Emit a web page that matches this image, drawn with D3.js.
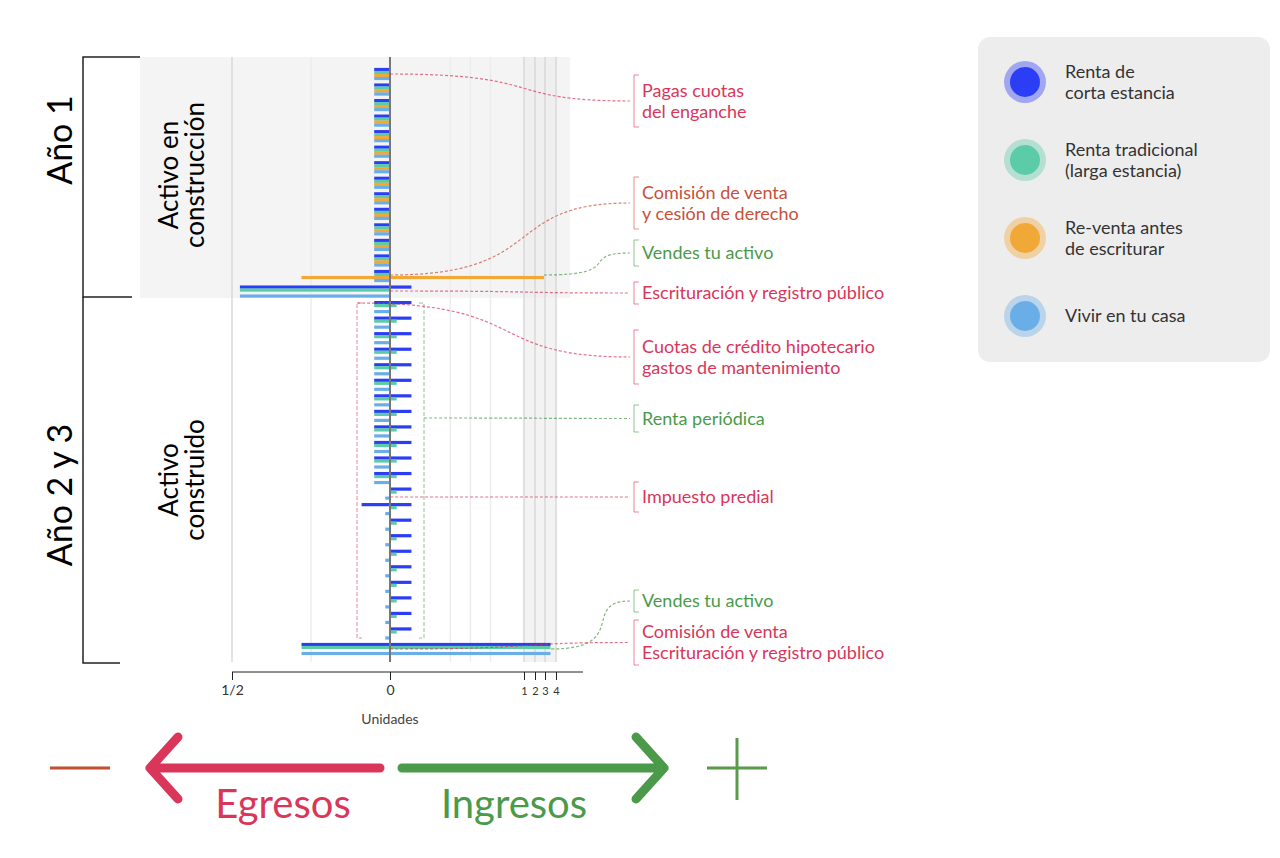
<!DOCTYPE html>
<html><head><meta charset="utf-8">
<script src="https://cdn.jsdelivr.net/npm/d3@7"></script>
<style>body{margin:0;background:#fff;font-family:Lato,"Noto Sans",sans-serif}</style>
</head><body><svg id="c" width="1280" height="858"></svg>
<script>
const series = ["Renta de corta estancia","Renta tradicional (larga estancia)","Re-venta antes de escriturar","Vivir en tu casa"];
const seriesLabels = [["Renta de","corta estancia"],["Renta tradicional","(larga estancia)"],["Re-venta antes","de escriturar"],["Vivir en tu casa"]];
const colors = ["#2b3ef5","#5ccba8","#f0a837","#6aaee8"];
const tickVals = [-1,0,1,2,3,4];
const tickLabels = ["1/2","0","1","2","3","4"];
// rows: [neg, pos] per series (blue, teal, orange, lightblue)
const rows = [];
for(let i=0;i<13;i++) rows.push([[-0.1,0],[-0.1,0],[-0.1,0],[-0.1,0]]);
rows.push([[-0.1,0],[-0.1,0],[-0.56,2.9],[-0.1,0]]);
rows.push([[-0.95,0.16],[-0.95,0],[0,0],[-0.95,0]]);
const y2first = [[-0.1,0.16],[-0.1,0.05],[0,0],[-0.1,0]];
for(let i=0;i<12;i++) rows.push(y2first);
rows.push([[0,0.16],[0,0.05],[0,0],[-0.03,0]]);
rows.push([[-0.18,0.16],[0,0.05],[0,0],[-0.03,0]]);
for(let i=0;i<8;i++) rows.push([[0,0.16],[0,0.05],[0,0],[-0.03,0]]);
rows.push([[-0.56,3.5],[-0.56,3.5],[0,0],[-0.56,3.5]]);

const svg=d3.select("#c");
const x=d3.scaleLinear().domain(tickVals).range([232,390,524,535,545,556]);
const y=d3.scaleLinear().domain([0,rows.length-1]).range([74,649]);
const red="#d9365a", dred="#c8503a", green="#4a9a4a";

// backgrounds
svg.append("rect").attr("x",140).attr("y",57).attr("width",430).attr("height",241).attr("fill","#f4f4f4");
svg.append("rect").attr("x",x(1)).attr("y",57).attr("width",x(4)-x(1)).attr("height",605).attr("fill","#ebebeb").attr("opacity",0.6);
[-1,-0.5,0.45,0.6,0.75,1,2,3,4].forEach(v=>svg.append("line").attr("x1",x(v)).attr("x2",x(v)).attr("y1",57).attr("y2",662).attr("stroke",v>=1||v==-1?"#d8d8d8":"#ececec").attr("stroke-width",1.5));

// left brackets
const br=svg.append("g").attr("stroke","#222").attr("stroke-width",1.5).attr("fill","none");
br.append("path").attr("d","M140,57H83V297H132");
br.append("path").attr("d","M83,297V663H120");
svg.append("text").attr("transform","translate(72,140) rotate(-90)").attr("text-anchor","middle").attr("font-size",34).text("Año 1");
svg.append("text").attr("transform","translate(72,495) rotate(-90)").attr("text-anchor","middle").attr("font-size",34).text("Año 2 y 3");
[["Activo en","construcción",175],["Activo","construido",480]].forEach(d=>{
 const t=svg.append("text").attr("transform",`translate(190,${d[2]}) rotate(-90)`).attr("text-anchor","middle").attr("font-size",26);
 t.append("tspan").attr("x",0).attr("dy",-12).text(d[0]);
 t.append("tspan").attr("x",0).attr("dy",26).text(d[1]);
});

// bars
const off=[-4.5,-1.5,1.5,4.5];
rows.forEach((r,i)=>r.forEach((v,s)=>{
 if(v[0]===v[1]) return;
 svg.append("rect").attr("x",x(v[0])).attr("width",x(v[1])-x(v[0])).attr("y",y(i)+off[s]-1.6).attr("height",3.2).attr("fill",colors[s]);
}));
// zero axis line
svg.append("line").attr("x1",390).attr("x2",390).attr("y1",57).attr("y2",662).attr("stroke","#777").attr("stroke-width",2);

// x axis
const ax=svg.append("g").attr("transform","translate(0,672)").call(d3.axisBottom(x).tickValues(tickVals).tickFormat((d,i)=>tickLabels[i]).tickSize(8).tickSizeOuter(0));
ax.select(".domain").attr("d","M232,0H583").attr("stroke","#222");
ax.selectAll(".tick line").attr("y1",-8).attr("y2",0).attr("transform","translate(0,8)").attr("stroke","#222");
ax.selectAll(".tick text").attr("font-size",d=>d>=1?11:14).attr("dy",12).attr("font-family","Lato").attr("fill","#333");
svg.append("text").attr("x",390).attr("y",724).attr("text-anchor","middle").attr("font-size",14).attr("fill","#444").text("Unidades");

// dashed brackets in year 2
svg.append("path").attr("d","M362,303H357V638H362").attr("stroke",red).attr("opacity",0.6).attr("fill","none").attr("stroke-dasharray","4,2");
svg.append("path").attr("d","M419,303H424V638H419").attr("stroke",green).attr("opacity",0.6).attr("fill","none").attr("stroke-dasharray","4,2");

// annotations
const ann=[
 {t:["Pagas cuotas","del enganche"],c:red,y0:75,y1:127,sx:390,sy:74},
 {t:["Comisión de venta","y cesión de derecho"],c:dred,y0:177,y1:229,sx:390,sy:275},
 {t:["Vendes tu activo"],c:green,y0:240,y1:266,sx:x(2.9),sy:275},
 {t:["Escrituración y registro público"],c:red,y0:282,y1:304,sx:390,sy:291},
 {t:["Cuotas de crédito hipotecario","gastos de mantenimiento"],c:red,y0:330,y1:384,sx:357,sy:303},
 {t:["Renta periódica"],c:green,y0:405,y1:432,sx:424,sy:418},
 {t:["Impuesto predial"],c:red,y0:482,y1:512,sx:390,sy:497},
 {t:["Vendes tu activo"],c:green,y0:590,y1:612,sx:551,sy:649},
 {t:["Comisión de venta","Escrituración y registro público"],c:red,y0:620,y1:665,sx:390,sy:649}
];
ann.forEach(a=>{
 const cy=(a.y0+a.y1)/2;
 const mx=(a.sx+630)/2;
 svg.append("path").attr("d",`M${a.sx},${a.sy}C${mx+40},${a.sy} ${mx-10},${cy} 630,${cy}`).attr("fill","none").attr("stroke",a.c).attr("stroke-width",1.2).attr("stroke-dasharray","3,2").attr("opacity",0.7);
 svg.append("path").attr("d",`M639,${a.y0}H634V${a.y1}H639`).attr("fill","none").attr("stroke",a.c).attr("stroke-width",1).attr("opacity",0.6);
 const t=svg.append("text").attr("fill",a.c).attr("font-size",18);
 const n=a.t.length;
 a.t.forEach((s,i)=>t.append("tspan").attr("x",642).attr("y",cy+6+(i-(n-1)/2)*21).text(s));
});

// legend
svg.append("rect").attr("x",978).attr("y",37).attr("width",292).attr("height",325).attr("rx",12).attr("fill","#eeeded");
[82,160,238,316].forEach((ly,i)=>{
 svg.append("circle").attr("cx",1025).attr("cy",ly).attr("r",21).attr("fill",colors[i]).attr("opacity",0.4);
 svg.append("circle").attr("cx",1025).attr("cy",ly).attr("r",15).attr("fill",colors[i]);
 const t=svg.append("text").attr("font-size",18).attr("fill","#333");
 const n=seriesLabels[i].length;
 seriesLabels[i].forEach((s,j)=>t.append("tspan").attr("x",1065).attr("y",ly+6+(j-(n-1)/2)*21).text(s));
});

// bottom arrows
svg.append("line").attr("x1",50).attr("x2",110).attr("y1",768).attr("y2",768).attr("stroke","#c0502f").attr("stroke-width",3);
svg.append("path").attr("d","M380,768H152M178,737L150,768L178,799").attr("fill","none").attr("stroke",red).attr("stroke-width",9).attr("stroke-linecap","round").attr("stroke-linejoin","round");
svg.append("path").attr("d","M402,768H662M636,737L664,768L636,799").attr("fill","none").attr("stroke",green).attr("stroke-width",9).attr("stroke-linecap","round").attr("stroke-linejoin","round");
svg.append("path").attr("d","M707,768H767M737,738V800").attr("stroke","#5a9a4a").attr("stroke-width",3);
svg.append("text").attr("x",283).attr("y",818).attr("text-anchor","middle").attr("font-size",40).attr("fill",red).text("Egresos");
svg.append("text").attr("x",514).attr("y",818).attr("text-anchor","middle").attr("font-size",40).attr("fill",green).text("Ingresos");
</script></body></html>
